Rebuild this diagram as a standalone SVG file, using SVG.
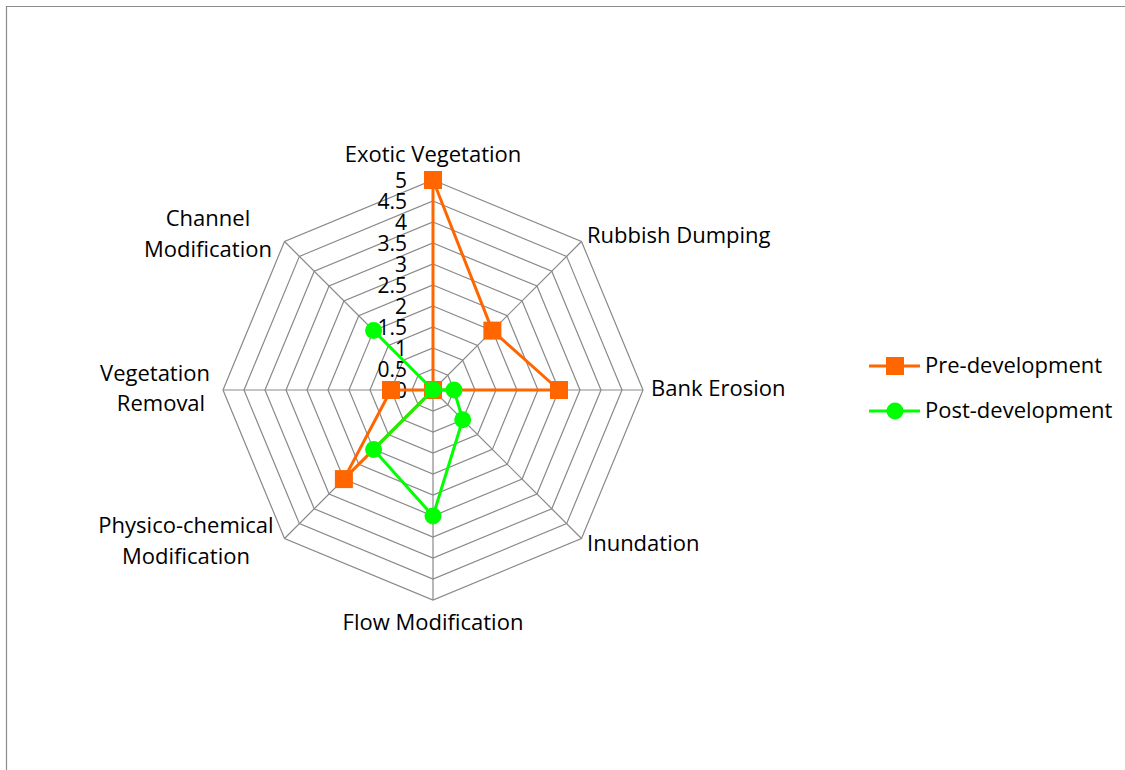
<svg xmlns="http://www.w3.org/2000/svg" width="1125" height="770" viewBox="0 0 1125 770">
<style>
.grid{fill:none;stroke:#898989;stroke-width:1.2}
.spoke{stroke:#898989;stroke-width:1.2}
text{font-family:"Open Sans","Liberation Sans",Arial,sans-serif;font-size:22px;fill:#000}
.tick{text-anchor:end;font-size:21px}
.mid{text-anchor:middle}
.pre{fill:none;stroke:#FF6600;stroke-width:3;stroke-linejoin:round}
.post{fill:none;stroke:#00FF00;stroke-width:3;stroke-linejoin:round}
.sq{fill:#FF6600}
.dot{fill:#00FF00}
</style>
<rect x="0" y="0" width="1125" height="770" fill="#fff"/>
<path d="M6.5 770 V6.5 H1125" fill="none" stroke="#8c8c8c" stroke-width="1.2"/>
<g id="grid">
<polygon class="grid" points="433,369 447.85,375.15 454,390 447.85,404.85 433,411 418.15,404.85 412,390 418.15,375.15"/>
<polygon class="grid" points="433,348 462.7,360.3 475,390 462.7,419.7 433,432 403.3,419.7 391,390 403.3,360.3"/>
<polygon class="grid" points="433,327 477.55,345.45 496,390 477.55,434.55 433,453 388.45,434.55 370,390 388.45,345.45"/>
<polygon class="grid" points="433,306 492.4,330.6 517,390 492.4,449.4 433,474 373.6,449.4 349,390 373.6,330.6"/>
<polygon class="grid" points="433,285 507.25,315.75 538,390 507.25,464.25 433,495 358.75,464.25 328,390 358.75,315.75"/>
<polygon class="grid" points="433,264 522.1,300.9 559,390 522.1,479.1 433,516 343.9,479.1 307,390 343.9,300.9"/>
<polygon class="grid" points="433,243 536.94,286.06 580,390 536.94,493.94 433,537 329.06,493.94 286,390 329.06,286.06"/>
<polygon class="grid" points="433,222 551.79,271.21 601,390 551.79,508.79 433,558 314.21,508.79 265,390 314.21,271.21"/>
<polygon class="grid" points="433,201 566.64,256.36 622,390 566.64,523.64 433,579 299.36,523.64 244,390 299.36,256.36"/>
<polygon class="grid" points="433,180 581.49,241.51 643,390 581.49,538.49 433,600 284.51,538.49 223,390 284.51,241.51"/>
<line class="spoke" x1="433" y1="390" x2="433" y2="180"/>
<line class="spoke" x1="433" y1="390" x2="581.49" y2="241.51"/>
<line class="spoke" x1="433" y1="390" x2="643" y2="390"/>
<line class="spoke" x1="433" y1="390" x2="581.49" y2="538.49"/>
<line class="spoke" x1="433" y1="390" x2="433" y2="600"/>
<line class="spoke" x1="433" y1="390" x2="284.51" y2="538.49"/>
<line class="spoke" x1="433" y1="390" x2="223" y2="390"/>
<line class="spoke" x1="433" y1="390" x2="284.51" y2="241.51"/>
</g>
<g id="ticks">
<text class="tick" x="407" y="188">5</text>
<text class="tick" x="407" y="209">4.5</text>
<text class="tick" x="407" y="230">4</text>
<text class="tick" x="407" y="251">3.5</text>
<text class="tick" x="407" y="272">3</text>
<text class="tick" x="407" y="293">2.5</text>
<text class="tick" x="407" y="314">2</text>
<text class="tick" x="407" y="335">1.5</text>
<text class="tick" x="407" y="356">1</text>
<text class="tick" x="407" y="377">0.5</text>
<text class="tick" x="407" y="398">0</text>
</g>
<g id="axis-labels">
<text id="lbl-exotic" class="mid" x="433" y="162">Exotic Vegetation</text>
<text id="lbl-rubbish" x="587" y="243">Rubbish Dumping</text>
<text id="lbl-bank" x="651" y="396">Bank Erosion</text>
<text id="lbl-inundation" x="587" y="551">Inundation</text>
<text id="lbl-flow" class="mid" x="433" y="630">Flow Modification</text>
<text id="lbl-physico" class="mid" x="186" y="533">Physico-chemical<tspan x="186" y="564">Modification</tspan></text>
<text id="lbl-vegrem" class="mid" x="155" y="381">Vegetation<tspan x="161" y="411">Removal</tspan></text>
<text id="lbl-channel" class="mid" x="208" y="226">Channel<tspan x="208" y="257">Modification</tspan></text>
</g>
<g id="series-pre">
<polygon class="pre" points="433,180 492.4,330.6 559,390 433,390 433,390 343.9,479.1 391,390 433,390"/>
<rect class="sq" x="424" y="171" width="18" height="18"/>
<rect class="sq" x="483.4" y="321.6" width="18" height="18"/>
<rect class="sq" x="550" y="381" width="18" height="18"/>
<rect class="sq" x="424" y="381" width="18" height="18"/>
<rect class="sq" x="334.9" y="470.1" width="18" height="18"/>
<rect class="sq" x="382" y="381" width="18" height="18"/>
</g>
<g id="series-post">
<polygon class="post" points="433,390 433,390 454,390 462.7,419.7 433,516 373.6,449.4 433,390 373.6,330.6"/>
<circle class="dot" cx="433" cy="390" r="8.5"/>
<circle class="dot" cx="454" cy="390" r="8.5"/>
<circle class="dot" cx="462.7" cy="419.7" r="8.5"/>
<circle class="dot" cx="433" cy="516" r="8.5"/>
<circle class="dot" cx="373.6" cy="449.4" r="8.5"/>
<circle class="dot" cx="373.6" cy="330.6" r="8.5"/>
</g>
<g id="legend">
<line x1="869" y1="366" x2="920" y2="366" stroke="#FF6600" stroke-width="3"/>
<rect class="sq" x="886" y="357" width="18" height="18"/>
<text x="925" y="373">Pre-development</text>
<line x1="869" y1="411" x2="920" y2="411" stroke="#00FF00" stroke-width="3"/>
<circle class="dot" cx="895" cy="411" r="8.5"/>
<text x="925" y="418">Post-development</text>
</g>
</svg>
